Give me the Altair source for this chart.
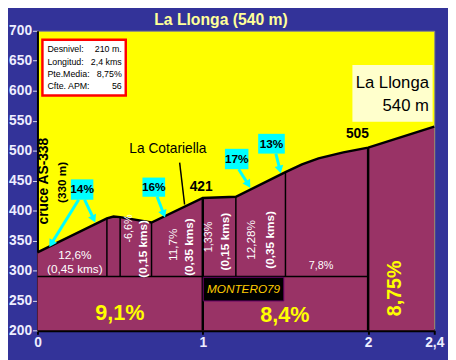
import math
import altair as alt
import pandas as pd

FONT = "Liberation Sans"

# ---------------- data ----------------
title_text = "La Llonga (540 m)"

prof_km = [0, 0.42, 0.46, 0.5, 0.69, 1.0, 1.2, 1.5, 1.6, 1.7, 1.85, 2.0, 2.4]
prof_elev = [330, 387, 390, 389, 380, 421, 423, 464, 477, 487, 497, 505, 540]
base_elev = 200

# minor dividers (from the 290 m line up to the profile)
div_km = [0.42, 0.5, 0.69, 1.2, 1.5]
div_top = [387, 389, 380, 423, 464]
div_base = 290
# main dividers (full height)
main_km = [1.0, 2.0]
main_top = [421, 505]
hline_x = [0, 2.0]

x_ticks = [0, 1, 2, 2.4]
y_ticks = [200, 250, 300, 350, 400, 450, 500, 550, 600, 650, 700]

# segment labels (white)
seg_norm_text = ["12,6%", "(0,45 kms)", "-6,6%", "11,7%", "1,33%", "12,28%", "7,8%"]
seg_norm_x = [0.226, 0.226, 0.552, 0.819, 1.039, 1.294, 1.715]
seg_norm_y = [326, 302, 370, 343, 356, 351, 308]
seg_norm_angle = [0, 0, 270, 270, 270, 270, 0]
seg_norm_size = [12, 12, 11, 12, 11, 12, 11]

seg_bold_text = ["(0,15 kms)", "(0,35 kms)", "(0,15 kms)", "(0,35 kms)"]
seg_bold_x = [0.641, 0.920, 1.134, 1.407]
seg_bold_y = [336, 339, 348, 351]

# big yellow gradients
big_text = ["9,1%", "8,4%", "8,75%"]
big_x = [0.499, 1.496, 2.166]
big_y = [229, 226, 270]
big_angle = [0, 0, 270]
big_size = [22, 22, 20]

# cyan gradient boxes
box_label = ["14%", "16%", "17%", "13%"]
box_x1 = [0.202, 0.635, 1.134, 1.335]
box_x2 = [0.338, 0.772, 1.276, 1.496]
box_y1 = [418, 423, 469, 495]
box_y2 = [452, 455, 503, 528]

# cyan arrows (tail -> tip)
arr_x1 = [0.249, 0.285, 0.724, 1.217, 1.442]
arr_y1 = [418, 418, 423, 469, 495]
arr_x2 = [0.071, 0.350, 0.772, 1.288, 1.472]
arr_y2 = [339, 380, 388, 438, 462]

# black labels
blk_bold_text = ["cruce AS-338", "(330 m)", "421", "505"]
blk_bold_x = [0.040, 0.148, 0.990, 1.935]
blk_bold_y = [449, 447, 439, 528]
blk_bold_angle = [270, 270, 0, 0]
blk_bold_size = [14, 12, 14, 14]

cota_text = ["La Cotariella"]
cota_x = [0.789]
cota_y = [502]
cota_line_x = [0.86, 0.89]
cota_line_y = [480, 410]

# info box
info_labels = ["Desnivel:", "Longitud:", "Pte.Media:", "Cfte. APM:"]
info_values = ["210 m.", "2,4 kms", "8,75%", "56"]
info_y = [669, 648, 628, 608]
info_box = [0.03, 0.534, 592, 685]

# summit box
summit_lines = ["La Llonga", "540 m"]
summit_y = [613, 575]
summit_box = [1.905, 2.39, 548, 643]

# signature
sig_text = ["MONTERO79"]
sig_box = [1.003, 1.49, 249, 288.5]

title_pos = [1.11, 718]

# ---------------- helpers ----------------
XS = alt.Scale(domain=[0, 2.4], nice=False, zero=False)
YS = alt.Scale(domain=[200, 700], nice=False, zero=False)

XA = alt.Axis(
    values=x_ticks, title=None, grid=False,
    labelExpr="replace(format(datum.value, '~g'), '.', ',')",
    labelFont=FONT, labelFontSize=14, labelFontWeight="bold", labelColor="#EEEEFF",
    labelFlush=False, labelPadding=1, tickColor="#000000", tickSize=4, tickWidth=2,
    domainColor="#000000", domainWidth=3)
YA = alt.Axis(
    values=y_ticks, title=None, grid=False,
    labelFont=FONT, labelFontSize=14, labelFontWeight="bold", labelColor="#EEEEFF",
    labelFlush=False, labelPadding=1, tickColor="#DDDDEE", tickSize=5, tickWidth=1,
    domainColor="#000000", domainWidth=2)


def X(f="x"):
    return alt.X(f"{f}:Q", scale=XS, axis=XA)


def Y(f="y"):
    return alt.Y(f"{f}:Q", scale=YS, axis=YA)


KM_PX = 168.5   # only used to orient arrow heads
M_PX = 0.61

# ---------------- layers ----------------
profile = pd.DataFrame({"x": prof_km, "y": prof_elev, "b": [base_elev] * len(prof_km)})

area = alt.Chart(profile).mark_area(color="#993366", opacity=1).encode(
    x=X(), y=Y(), y2="b:Q")

line = alt.Chart(profile).mark_line(color="#000000", strokeWidth=2.5).encode(x=X(), y=Y())

divs = pd.DataFrame({"x": div_km, "y": [div_base] * len(div_km), "y2": div_top})
div_rules = alt.Chart(divs).mark_rule(color="#000000", strokeWidth=1.5).encode(
    x=X(), y=Y(), y2="y2:Q")

mains = pd.DataFrame({"x": main_km, "y": [base_elev] * len(main_km), "y2": main_top})
main_rules = alt.Chart(mains).mark_rule(color="#000000", strokeWidth=2.5).encode(
    x=X(), y=Y(), y2="y2:Q")

hl = pd.DataFrame({"x": [hline_x[0]], "x2": [hline_x[1]], "y": [div_base]})
h_rule = alt.Chart(hl).mark_rule(color="#000000", strokeWidth=1.5).encode(
    x=X(), x2="x2:Q", y=Y())

seg_norm = pd.DataFrame({"t": seg_norm_text, "x": seg_norm_x, "y": seg_norm_y,
                         "a": seg_norm_angle, "s": seg_norm_size})
seg_norm_l = alt.Chart(seg_norm).mark_text(font=FONT, color="#FFFFFF", align="center",
                                           baseline="middle").encode(
    x=X(), y=Y(), text="t:N", angle=alt.Angle("a:Q", scale=None),
    size=alt.Size("s:Q", scale=None, legend=None))

seg_bold = pd.DataFrame({"t": seg_bold_text, "x": seg_bold_x, "y": seg_bold_y})
seg_bold_l = alt.Chart(seg_bold).mark_text(font=FONT, color="#FFFFFF", fontWeight="bold",
                                           fontSize=12, angle=270, align="center",
                                           baseline="middle").encode(
    x=X(), y=Y(), text="t:N")

big = pd.DataFrame({"t": big_text, "x": big_x, "y": big_y, "a": big_angle, "s": big_size})
big_l = alt.Chart(big).mark_text(font=FONT, color="#FFFF00", fontWeight="bold",
                                 align="center", baseline="middle").encode(
    x=X(), y=Y(), text="t:N", angle=alt.Angle("a:Q", scale=None),
    size=alt.Size("s:Q", scale=None, legend=None))

sig_rect = alt.Chart(pd.DataFrame({"x": [sig_box[0]], "x2": [sig_box[1]],
                                   "y": [sig_box[2]], "y2": [sig_box[3]]})).mark_rect(
    color="#000000", stroke="#660066", strokeWidth=1).encode(
    x=X(), x2="x2:Q", y=Y(), y2="y2:Q")
sig_txt = alt.Chart(pd.DataFrame({"t": sig_text, "x": [(sig_box[0] + sig_box[1]) / 2],
                                  "y": [(sig_box[2] + sig_box[3]) / 2]})).mark_text(
    font=FONT, fontSize=12, fontStyle="italic", color="#FFCC00", align="center",
    baseline="middle").encode(x=X(), y=Y(), text="t:N")

# arrows
hx, hy, ang = [], [], []
for x1, y1, x2, y2 in zip(arr_x1, arr_y1, arr_x2, arr_y2):
    dxp = (x2 - x1) * KM_PX
    dyp = -(y2 - y1) * M_PX
    L = math.hypot(dxp, dyp)
    ux, uy = dxp / L, dyp / L
    hx.append(x2 - 4 * ux / KM_PX)
    hy.append(y2 + 4 * uy / M_PX)
    ang.append(math.degrees(math.atan2(-ux, uy)) % 360)

arr_df = pd.DataFrame({"x": arr_x1, "y": arr_y1, "x2": hx, "y2": hy})
arr_shafts = alt.Chart(arr_df).mark_rule(color="#00FFFF", strokeWidth=3).encode(
    x=X(), y=Y(), x2="x2:Q", y2="y2:Q")
head_df = pd.DataFrame({"x": hx, "y": hy, "a": ang})
arr_heads = alt.Chart(head_df).mark_point(shape="triangle-down", filled=True, color="#00FFFF",
                                          size=80, opacity=1).encode(
    x=X(), y=Y(), angle=alt.Angle("a:Q", scale=None))

boxes = pd.DataFrame({"t": box_label, "x": box_x1, "x2": box_x2, "y": box_y1, "y2": box_y2,
                      "cx": [(a + b) / 2 for a, b in zip(box_x1, box_x2)],
                      "cy": [(a + b) / 2 for a, b in zip(box_y1, box_y2)]})
box_r = alt.Chart(boxes).mark_rect(color="#00FFFF").encode(x=X(), x2="x2:Q", y=Y(), y2="y2:Q")
box_t = alt.Chart(boxes).mark_text(font=FONT, fontSize=12, fontWeight="bold", color="#000000",
                                   align="center", baseline="middle").encode(
    x=X("cx"), y=Y("cy"), text="t:N")

blk = pd.DataFrame({"t": blk_bold_text, "x": blk_bold_x, "y": blk_bold_y,
                    "a": blk_bold_angle, "s": blk_bold_size})
blk_l = alt.Chart(blk).mark_text(font=FONT, fontWeight="bold", color="#000000", align="center",
                                 baseline="middle").encode(
    x=X(), y=Y(), text="t:N", angle=alt.Angle("a:Q", scale=None),
    size=alt.Size("s:Q", scale=None, legend=None))

cota = alt.Chart(pd.DataFrame({"t": cota_text, "x": cota_x, "y": cota_y})).mark_text(
    font=FONT, fontSize=14, color="#000000", align="center", baseline="middle").encode(
    x=X(), y=Y(), text="t:N")
cota_line = alt.Chart(pd.DataFrame({"x": [cota_line_x[0]], "x2": [cota_line_x[1]],
                                    "y": [cota_line_y[0]], "y2": [cota_line_y[1]]})).mark_rule(
    color="#000000", strokeWidth=1.5).encode(x=X(), x2="x2:Q", y=Y(), y2="y2:Q")

info_rect = alt.Chart(pd.DataFrame({"x": [info_box[0]], "x2": [info_box[1]],
                                    "y": [info_box[2]], "y2": [info_box[3]]})).mark_rect(
    color="#FFFFFF", stroke="#FF0000", strokeWidth=2.5).encode(
    x=X(), x2="x2:Q", y=Y(), y2="y2:Q")
info_df = pd.DataFrame({"l": info_labels, "v": info_values, "y": info_y,
                        "xl": [0.06] * 4, "xr": [0.51] * 4})
info_l = alt.Chart(info_df).mark_text(font=FONT, fontSize=9, color="#000000", align="left",
                                      baseline="middle").encode(x=X("xl"), y=Y(), text="l:N")
info_v = alt.Chart(info_df).mark_text(font=FONT, fontSize=9, color="#000000", align="right",
                                      baseline="middle").encode(x=X("xr"), y=Y(), text="v:N")

sum_rect = alt.Chart(pd.DataFrame({"x": [summit_box[0]], "x2": [summit_box[1]],
                                   "y": [summit_box[2]], "y2": [summit_box[3]]})).mark_rect(
    color="#FFFFCC").encode(x=X(), x2="x2:Q", y=Y(), y2="y2:Q")
sum_t = alt.Chart(pd.DataFrame({"t": summit_lines, "y": summit_y,
                                "x": [2.368] * 2})).mark_text(
    font=FONT, fontSize=17, color="#000000", align="right", baseline="middle").encode(
    x=X(), y=Y(), text="t:N")

title_l = alt.Chart(pd.DataFrame({"t": [title_text], "x": [title_pos[0]],
                                  "y": [title_pos[1]]})).mark_text(
    font=FONT, fontSize=16, fontWeight="bold", color="#FFFF99", align="center",
    baseline="middle").encode(x=X(), y=Y(), text="t:N")

chart = alt.layer(
    area, div_rules, main_rules, h_rule, line,
    seg_norm_l, seg_bold_l, big_l, sig_rect, sig_txt,
    arr_shafts, arr_heads, box_r, box_t,
    blk_l, cota_line, cota, info_rect, info_l, info_v, sum_rect, sum_t, title_l,
).properties(
    width=404, height=305,
    autosize=alt.AutoSizeParams(type="none"),
    padding={"left": 30, "top": 20, "right": 14, "bottom": 27},
    background="#333399",
).configure_view(
    fill="#FFFF00", stroke="#888888", strokeWidth=1,
)

chart.save("out.html", embed_options={"renderer": "svg", "actions": False})
